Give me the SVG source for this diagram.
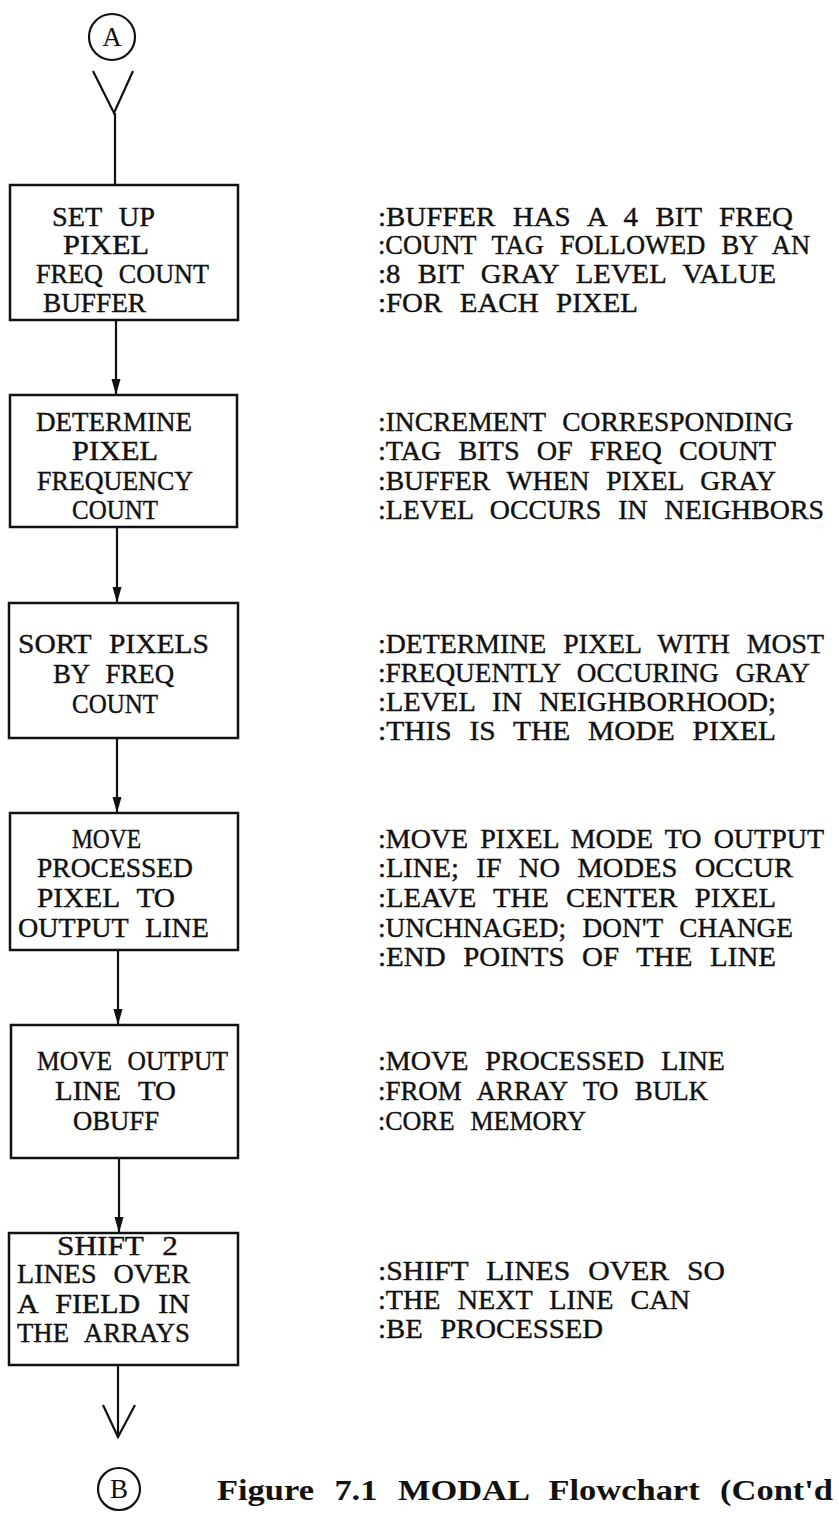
<svg xmlns="http://www.w3.org/2000/svg" width="839" height="1514" viewBox="0 0 839 1514">
  <style>
    .bg { fill: #ffffff; }
    .box { fill: #ffffff; stroke: #111; stroke-width: 2.5; }
    .circ { fill: none; stroke: #111; stroke-width: 2.2; }
    .conn { fill: none; stroke: #111; stroke-width: 2.2; }
    .t { font-family: "Liberation Serif", "Times New Roman", serif; font-size: 28px; fill: #111; stroke: #111; stroke-width: 0.4; word-spacing: 10px; }
    .tn { font-size: 27px; word-spacing: 5px; }
    .cap { font-family: "Liberation Serif", "Times New Roman", serif; font-size: 29px; font-weight: bold; fill: #111; word-spacing: 10px; }
    .lbl { font-family: "Liberation Serif", "Times New Roman", serif; font-size: 27px; fill: #111; text-anchor: middle; }
  </style>
  <defs>
    <marker id="arr" viewBox="0 -5 16 10" refX="16" refY="0" markerWidth="16" markerHeight="10" markerUnits="userSpaceOnUse" orient="auto">
      <path d="M0,-4.5 L16,0 L0,4.5 z" fill="#111"/>
    </marker>
  </defs>
  <rect class="bg" x="0" y="0" width="839" height="1514"/>

  <g id="connectors">
    <polyline class="conn" points="93,71 114,113 133,71"/>
    <line class="conn" x1="115" y1="113" x2="115" y2="185"/>
    <line class="conn" x1="116" y1="320" x2="116" y2="395" marker-end="url(#arr)"/>
    <line class="conn" x1="117" y1="527" x2="117" y2="603" marker-end="url(#arr)"/>
    <line class="conn" x1="117" y1="738" x2="117" y2="813" marker-end="url(#arr)"/>
    <line class="conn" x1="118" y1="950" x2="118" y2="1025" marker-end="url(#arr)"/>
    <line class="conn" x1="119" y1="1158" x2="119" y2="1233" marker-end="url(#arr)"/>
    <line class="conn" x1="118" y1="1365" x2="118" y2="1437"/>
    <polyline class="conn" points="103,1405 118,1437 135,1405"/>
  </g>

  <g id="connA">
    <circle class="circ" cx="112" cy="37" r="23"/>
    <text class="lbl" x="112" y="46">A</text>
  </g>

  <g id="n1">
    <rect class="box" x="10" y="185" width="228" height="135"/>
    <text class="t" x="52" y="226" textLength="103" lengthAdjust="spacingAndGlyphs">SET UP</text>
    <text class="t" x="63" y="254" textLength="86" lengthAdjust="spacingAndGlyphs">PIXEL</text>
    <text class="t" x="36" y="283" textLength="173" lengthAdjust="spacingAndGlyphs">FREQ COUNT</text>
    <text class="t" x="43" y="312" textLength="103" lengthAdjust="spacingAndGlyphs">BUFFER</text>
  </g>
  <g id="c1">
    <text class="t" x="378" y="226" textLength="415" lengthAdjust="spacingAndGlyphs">:BUFFER HAS A 4 BIT FREQ</text>
    <text class="t" x="378" y="254" textLength="432" lengthAdjust="spacingAndGlyphs">:COUNT TAG FOLLOWED BY AN</text>
    <text class="t" x="378" y="283" textLength="398" lengthAdjust="spacingAndGlyphs">:8 BIT GRAY LEVEL VALUE</text>
    <text class="t" x="378" y="312" textLength="260" lengthAdjust="spacingAndGlyphs">:FOR EACH PIXEL</text>
  </g>

  <g id="n2">
    <rect class="box" x="10" y="395" width="227" height="132"/>
    <text class="t" x="36" y="431" textLength="156" lengthAdjust="spacingAndGlyphs">DETERMINE</text>
    <text class="t" x="72" y="460" textLength="86" lengthAdjust="spacingAndGlyphs">PIXEL</text>
    <text class="t" x="37" y="490" textLength="156" lengthAdjust="spacingAndGlyphs">FREQUENCY</text>
    <text class="t" x="72" y="519" textLength="86" lengthAdjust="spacingAndGlyphs">COUNT</text>
  </g>
  <g id="c2">
    <text class="t" x="378" y="431" textLength="415" lengthAdjust="spacingAndGlyphs">:INCREMENT CORRESPONDING</text>
    <text class="t" x="378" y="460" textLength="398" lengthAdjust="spacingAndGlyphs">:TAG BITS OF FREQ COUNT</text>
    <text class="t" x="378" y="490" textLength="398" lengthAdjust="spacingAndGlyphs">:BUFFER WHEN PIXEL GRAY</text>
    <text class="t" x="378" y="519" textLength="446" lengthAdjust="spacingAndGlyphs">:LEVEL OCCURS IN NEIGHBORS</text>
  </g>

  <g id="n3">
    <rect class="box" x="9" y="603" width="229" height="135"/>
    <text class="t" x="18" y="653" textLength="191" lengthAdjust="spacingAndGlyphs">SORT PIXELS</text>
    <text class="t" x="53" y="683" textLength="121" lengthAdjust="spacingAndGlyphs">BY FREQ</text>
    <text class="t" x="72" y="713" textLength="86" lengthAdjust="spacingAndGlyphs">COUNT</text>
  </g>
  <g id="c3">
    <text class="t" x="378" y="653" textLength="446" lengthAdjust="spacingAndGlyphs">:DETERMINE PIXEL WITH MOST</text>
    <text class="t" x="378" y="682" textLength="432" lengthAdjust="spacingAndGlyphs">:FREQUENTLY OCCURING GRAY</text>
    <text class="t" x="378" y="711" textLength="398" lengthAdjust="spacingAndGlyphs">:LEVEL IN NEIGHBORHOOD;</text>
    <text class="t" x="378" y="740" textLength="398" lengthAdjust="spacingAndGlyphs">:THIS IS THE MODE PIXEL</text>
  </g>

  <g id="n4">
    <rect class="box" x="10" y="813" width="228" height="137"/>
    <text class="t" x="72" y="848" textLength="69" lengthAdjust="spacingAndGlyphs">MOVE</text>
    <text class="t" x="37" y="877" textLength="156" lengthAdjust="spacingAndGlyphs">PROCESSED</text>
    <text class="t" x="37" y="907" textLength="138" lengthAdjust="spacingAndGlyphs">PIXEL TO</text>
    <text class="t" x="18" y="937" textLength="191" lengthAdjust="spacingAndGlyphs">OUTPUT LINE</text>
  </g>
  <g id="c4">
    <text class="t tn" x="378" y="848" textLength="446" lengthAdjust="spacingAndGlyphs">:MOVE PIXEL MODE TO OUTPUT</text>
    <text class="t" x="378" y="877" textLength="415" lengthAdjust="spacingAndGlyphs">:LINE; IF NO MODES OCCUR</text>
    <text class="t" x="378" y="907" textLength="398" lengthAdjust="spacingAndGlyphs">:LEAVE THE CENTER PIXEL</text>
    <text class="t" x="378" y="937" textLength="415" lengthAdjust="spacingAndGlyphs">:UNCHNAGED; DON'T CHANGE</text>
    <text class="t" x="378" y="966" textLength="398" lengthAdjust="spacingAndGlyphs">:END POINTS OF THE LINE</text>
  </g>

  <g id="n5">
    <rect class="box" x="11" y="1025" width="227" height="133"/>
    <text class="t" x="37" y="1070" textLength="191" lengthAdjust="spacingAndGlyphs">MOVE OUTPUT</text>
    <text class="t" x="55" y="1100" textLength="121" lengthAdjust="spacingAndGlyphs">LINE TO</text>
    <text class="t" x="73" y="1130" textLength="86" lengthAdjust="spacingAndGlyphs">OBUFF</text>
  </g>
  <g id="c5">
    <text class="t" x="378" y="1070" textLength="347" lengthAdjust="spacingAndGlyphs">:MOVE PROCESSED LINE</text>
    <text class="t" x="378" y="1100" textLength="330" lengthAdjust="spacingAndGlyphs">:FROM ARRAY TO BULK</text>
    <text class="t" x="378" y="1130" textLength="208" lengthAdjust="spacingAndGlyphs">:CORE MEMORY</text>
  </g>

  <g id="n6">
    <rect class="box" x="9" y="1233" width="229" height="132"/>
    <text class="t" x="57" y="1255" textLength="121" lengthAdjust="spacingAndGlyphs">SHIFT 2</text>
    <text class="t" x="17" y="1283" textLength="173" lengthAdjust="spacingAndGlyphs">LINES OVER</text>
    <text class="t" x="17" y="1313" textLength="173" lengthAdjust="spacingAndGlyphs">A FIELD IN</text>
    <text class="t" x="17" y="1342" textLength="173" lengthAdjust="spacingAndGlyphs">THE ARRAYS</text>
  </g>
  <g id="c6">
    <text class="t" x="378" y="1280" textLength="347" lengthAdjust="spacingAndGlyphs">:SHIFT LINES OVER SO</text>
    <text class="t" x="378" y="1309" textLength="312" lengthAdjust="spacingAndGlyphs">:THE NEXT LINE CAN</text>
    <text class="t" x="378" y="1338" textLength="225" lengthAdjust="spacingAndGlyphs">:BE PROCESSED</text>
  </g>

  <g id="connB">
    <circle class="circ" cx="119" cy="1489" r="21"/>
    <text class="lbl" x="119" y="1498">B</text>
  </g>

  <g id="caption">
    <text class="cap" x="217" y="1500" textLength="616" lengthAdjust="spacingAndGlyphs">Figure 7.1 MODAL Flowchart (Cont'd</text>
  </g>
</svg>
